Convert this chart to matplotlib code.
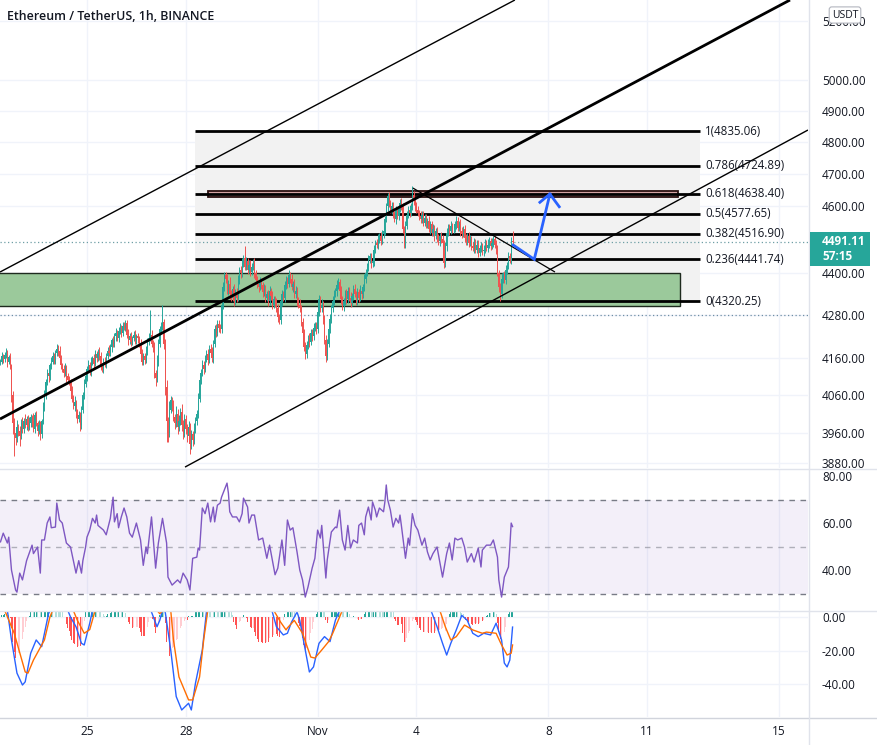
import numpy as np
import pandas as pd
import matplotlib
matplotlib.use('Agg')
import matplotlib.pyplot as plt
from matplotlib.patches import Rectangle
from matplotlib.lines import Line2D
from matplotlib.ticker import NullLocator

plt.rcParams['font.family'] = ['Open Sans', 'DejaVu Sans']

# ---------------- data ----------------
start_time = pd.Timestamp('2021-10-22 09:00')
open0 = 4150
closes = [
    4150, 4165, 4158, 4168, 4172, 4150, 4162, 4140, 4060, 3985,
    3960, 3945, 3975, 3965, 3950, 3985, 3970, 3990, 3980, 3995,
    3975, 3985, 4000, 3990, 3970, 4005, 3985, 3965, 3980, 3955,
    3990, 4030, 4060, 4095, 4120, 4110, 4140, 4150, 4165, 4155,
    4175, 4185, 4180, 4160, 4140, 4130, 4120, 4135, 4110, 4100,
    4095, 4070, 4050, 4030, 4040, 4010, 3995, 4005, 3980, 4020,
    4060, 4090, 4110, 4130, 4140, 4125, 4150, 4160, 4145, 4170,
    4160, 4175, 4165, 4140, 4130, 4150, 4145, 4165, 4180, 4175,
    4190, 4210, 4200, 4220, 4230, 4215, 4235, 4245, 4230, 4250,
    4245, 4258, 4225, 4210, 4220, 4205, 4215, 4225, 4210, 4220,
    4215, 4200, 4170, 4150, 4165, 4155, 4180, 4205, 4215, 4225,
    4200, 4190, 4120, 4105, 4150, 4200, 4240, 4250, 4260, 4200,
    4080, 3990, 3960, 4020, 4045, 4030, 4000, 3985, 4010, 3975,
    3990, 4015, 3980, 3960, 3995, 3970, 3950, 3975, 3930, 3955,
    3940, 3970, 3990, 4010, 4050, 4100, 4120, 4140, 4130, 4160,
    4170, 4155, 4185, 4175, 4160, 4200, 4240, 4230, 4255, 4245,
    4240, 4310, 4360, 4395, 4385, 4350, 4370, 4340, 4330, 4355,
    4320, 4345, 4330, 4380, 4410, 4400, 4430, 4445, 4420, 4435,
    4410, 4425, 4405, 4420, 4430, 4400, 4380, 4370, 4360, 4375,
    4365, 4345, 4355, 4330, 4340, 4320, 4350, 4335, 4310, 4325,
    4315, 4300, 4275, 4265, 4320, 4340, 4330, 4365, 4380, 4370,
    4395, 4385, 4360, 4370, 4340, 4350, 4320, 4310, 4300, 4260,
    4230, 4190, 4170, 4195, 4215, 4205, 4230, 4220, 4245, 4250,
    4240, 4290, 4325, 4300, 4310, 4270, 4210, 4165, 4200, 4240,
    4270, 4300, 4320, 4340, 4350, 4365, 4375, 4350, 4325, 4305,
    4320, 4340, 4325, 4350, 4330, 4315, 4335, 4355, 4340, 4320,
    4345, 4330, 4350, 4340, 4360, 4385, 4400, 4420, 4440, 4450,
    4430, 4435, 4470, 4490, 4485, 4500, 4510, 4495, 4515, 4525,
    4560, 4600, 4630, 4610, 4590, 4600, 4575, 4560, 4585, 4570,
    4595, 4610, 4600, 4530, 4490, 4540, 4575, 4590, 4580, 4600,
    4635, 4615, 4600, 4590, 4580, 4570, 4560, 4575, 4550, 4565,
    4545, 4555, 4530, 4545, 4520, 4530, 4510, 4525, 4505, 4495,
    4510, 4500, 4490, 4430, 4480, 4520, 4535, 4525, 4540, 4530,
    4530, 4545, 4555, 4535, 4545, 4525, 4515, 4530, 4505, 4495,
    4510, 4490, 4500, 4480, 4475, 4490, 4470, 4485, 4460, 4475,
    4480, 4465, 4470, 4490, 4475, 4485, 4495, 4480, 4490, 4500,
    4485, 4470, 4400, 4360, 4340, 4385, 4395, 4380, 4410, 4425,
    4450, 4440, 4495, 4491.11]

wick_up = [
    8, 12, 6, 10, 15, 9, 7, 12, 5, 10,
    14, 9, 18, 7, 12, 10, 15, 8, 20, 9,
    11, 16, 9, 7, 22, 10, 13, 6, 14, 9,
    6, 10, 12, 8, 11, 16, 7, 13, 12, 9,
    8, 14, 10, 13, 9, 6, 12, 11, 7, 9,
    10, 7, 13, 9, 16, 6, 11, 12, 8, 10,
    7, 12, 9, 8, 14, 10, 13, 7, 11, 12,
    9, 10, 16, 12, 7, 11, 13, 8, 10, 15,
    9, 7, 12, 10, 14, 8, 11, 13, 7, 10,
    12, 9, 8, 15, 10, 13, 7, 11, 14, 8,
    10, 7, 12, 15, 9, 8, 13, 10, 14, 70,
    12, 9, 14, 8, 18, 13, 10, 12, 50, 9,
    14, 20, 10, 24, 12, 9, 15, 8, 19, 12,
    15, 11, 20, 12, 14, 10, 13, 16, 9, 12,
    10, 15, 11, 9, 14, 12, 10, 16, 12, 9,
    12, 14, 10, 13, 15, 9, 12, 16, 10, 11,
    9, 12, 15, 10, 9, 14, 10, 20, 12, 8,
    15, 10, 12, 14, 9, 11, 15, 10, 35, 12,
    10, 13, 15, 9, 12, 14, 10, 11, 9, 15,
    12, 9, 15, 11, 10, 12, 14, 9, 13, 10,
    10, 14, 12, 9, 15, 11, 10, 14, 12, 9,
    15, 10, 12, 9, 14, 12, 10, 11, 15, 9,
    12, 10, 14, 11, 9, 15, 12, 10, 14, 11,
    10, 14, 12, 9, 15, 11, 10, 13, 12, 9,
    12, 10, 14, 11, 9, 15, 12, 10, 13, 11,
    9, 12, 14, 10, 11, 15, 9, 12, 14, 10,
    12, 9, 15, 11, 10, 14, 12, 9, 13, 11,
    10, 12, 14, 9, 11, 15, 10, 12, 13, 9,
    11, 10, 12, 13, 9, 14, 12, 10, 15, 11,
    10, 12, 14, 9, 11, 15, 10, 12, 14, 9,
    27, 12, 10, 14, 11, 9, 15, 12, 10, 13,
    12, 9, 14, 11, 10, 15, 12, 9, 13, 11,
    10, 12, 14, 9, 11, 15, 10, 12, 14, 9,
    12, 10, 14, 11, 9, 15, 12, 10, 13, 11,
    10, 12, 14, 9, 11, 15, 10, 12, 14, 9,
    12, 10, 14, 11, 9, 15, 12, 10, 13, 11,
    10, 12, 14, 9, 11, 15, 10, 12, 14, 9,
    12, 10, 12, 30]

wick_dn = [
    10, 7, 12, 8, 9, 14, 6, 11, 20, 30,
    60, 18, 9, 14, 25, 8, 12, 10, 7, 13,
    12, 8, 10, 15, 9, 11, 7, 14, 10, 15,
    9, 7, 12, 10, 8, 14, 9, 11, 7, 12,
    10, 8, 13, 9, 11, 7, 12, 10, 14, 8,
    9, 12, 10, 8, 13, 11, 9, 7, 15, 10,
    8, 11, 9, 12, 7, 10, 13, 9, 11, 8,
    12, 9, 10, 14, 8, 11, 9, 12, 7, 10,
    9, 12, 8, 10, 13, 9, 11, 7, 12, 10,
    8, 11, 9, 13, 10, 12, 8, 9, 11, 10,
    12, 9, 14, 10, 8, 11, 9, 12, 10, 8,
    10, 12, 15, 20, 9, 11, 8, 10, 12, 14,
    20, 55, 25, 12, 9, 14, 11, 15, 10, 18,
    12, 9, 15, 18, 11, 13, 14, 10, 25, 12,
    15, 10, 12, 9, 11, 8, 12, 10, 14, 9,
    11, 13, 9, 12, 10, 14, 9, 11, 8, 12,
    10, 9, 12, 11, 14, 10, 12, 15, 11, 9,
    14, 10, 12, 9, 11, 13, 10, 12, 9, 11,
    12, 10, 14, 9, 11, 13, 10, 12, 15, 9,
    11, 13, 10, 12, 9, 14, 10, 11, 13, 9,
    12, 10, 14, 11, 9, 13, 10, 12, 9, 11,
    10, 12, 9, 13, 11, 10, 14, 9, 12, 11,
    13, 10, 12, 9, 11, 14, 10, 12, 9, 11,
    12, 9, 13, 11, 10, 14, 12, 15, 10, 9,
    11, 13, 10, 12, 9, 14, 10, 11, 13, 9,
    12, 10, 14, 11, 9, 13, 10, 12, 9, 11,
    10, 12, 9, 13, 11, 10, 14, 9, 12, 11,
    13, 10, 12, 9, 11, 14, 10, 12, 9, 11,
    12, 9, 13, 11, 10, 14, 12, 9, 13, 10,
    11, 13, 10, 12, 15, 14, 10, 11, 13, 9,
    12, 10, 14, 11, 9, 13, 10, 12, 9, 11,
    10, 12, 9, 13, 11, 10, 14, 9, 12, 11,
    13, 10, 12, 15, 11, 14, 10, 12, 9, 11,
    12, 9, 13, 11, 10, 14, 12, 9, 13, 10,
    11, 13, 10, 12, 9, 14, 10, 11, 13, 9,
    12, 10, 14, 11, 9, 13, 10, 12, 9, 11,
    10, 12, 9, 13, 20, 10, 14, 9, 12, 11,
    13, 10, 12, 9]

# RSI (traced) : hour index, value
rsi_i = [0, 2, 5, 6, 8, 11, 12, 14, 16, 19, 23, 24, 27, 29, 30, 32, 34, 36, 37, 40,
         41, 43, 45, 48, 51, 53, 55, 57, 59, 60, 62, 63, 65, 67, 69, 70, 71, 75, 77, 80,
         82, 83, 85, 86, 88, 90, 92, 94, 96, 99, 102, 104, 106, 107, 110, 113, 115, 118, 121, 122,
         125, 129, 131, 133, 136, 138, 140, 143, 144, 145, 147, 149, 151, 153, 155, 156, 158, 160, 161, 163,
         165, 166, 167, 169, 172, 174, 176, 177, 180, 181, 183, 185, 188, 191, 194, 196, 200, 202, 205, 207,
         209, 211, 213, 216, 218, 220, 222, 224, 227, 229, 231, 233, 234, 235, 237, 238, 241, 244, 245, 247,
         249, 251, 253, 255, 257, 260, 261, 263, 265, 266, 268, 270, 271, 273, 274, 276, 279, 280, 281, 282,
         284, 286, 288, 290, 291, 292, 295, 297, 298, 300, 302, 304, 307, 309, 311, 313, 315, 318, 320, 322,
         325, 327, 329, 331, 333, 336, 338, 340, 343, 345, 348, 350, 351, 354, 357, 359, 362, 363, 365, 367,
         370, 371, 372, 373]
rsi_v = [52, 55.7, 51.5, 54, 40, 31.5, 30.6, 38.7, 35.8, 44, 50.6, 47, 49.8, 38.7, 52.8, 52.8, 60, 62.6, 58, 58.3,
         68.5, 61.3, 60, 51.5, 49.8, 44.3, 38.7, 44, 38.7, 44, 49.8, 54, 57, 62, 60, 63.4, 59, 57, 55, 62,
         71, 60.5, 64, 58, 62.6, 66.4, 62.6, 55.7, 54, 60, 52.8, 42, 49.8, 47, 62.6, 40.8, 51.5, 62, 51.5, 37,
         33.6, 35.8, 34.5, 38.7, 35.8, 31.5, 45, 45.5, 49.4, 48.5, 66.4, 64, 68.5, 60.5, 66.8, 60.5, 67.6, 68.5, 71, 74,
         77, 72.8, 64.8, 62.6, 62.6, 60.5, 64, 70.6, 66.8, 60, 63.4, 63.4, 52.8, 53.6, 45, 50.6, 38, 40.8, 52.8, 42,
         61.3, 57, 58, 47.7, 40, 35.8, 28.5, 32.8, 40.8, 45, 57, 53.6, 59, 51.5, 36.6, 44.3, 56.2, 58.3, 58, 65.5,
         52.8, 48.5, 59, 49.4, 52.8, 51.5, 59, 60, 55, 62.6, 66.8, 61.3, 69, 65.5, 62.6, 66.4, 64.8, 69, 76.2, 70,
         65.5, 58.3, 62, 60, 63.4, 59, 45, 53.6, 50.6, 64, 59, 57, 50.6, 53.6, 47.7, 44.3, 47, 49.8, 43.4, 37,
         47, 51.5, 44.3, 53.6, 52.8, 53.6, 49.8, 43.4, 47, 43.4, 49.4, 41.3, 48.5, 50.6, 50.6, 52.8, 45.5, 35.8, 28.5, 37,
         41.3, 49.8, 60, 58.5]

# MACD line (traced; values above the panel top are clipped in the reference)
macd_i = [0, 5, 8, 12, 16, 18, 22, 26, 30, 35, 40, 45, 51, 55, 59, 61, 65, 67, 75, 90,
          105, 110, 114, 116, 118, 120, 124, 128, 132, 137, 139, 142, 147, 150, 160, 180, 195, 198, 201, 206,
          209, 212, 216, 218, 222, 225, 228, 232, 236, 240, 244, 247, 260, 285, 305, 314, 318, 322, 325, 328,
          332, 336, 340, 344, 348, 352, 357, 361, 365, 367, 369, 371, 373]
macd_v = [12, 4, -13.7, -33.5, -40.6, -38.7, -21.6, -13.7, -17.7, 2, 10, 12, 0, -5.8, -15.7, -16.7, -3.7, 4, 12, 10,
          8, 3, -5.8, -2, 4, 3, -19.7, -47.5, -55.5, -51.5, -55.5, -39.6, -19.7, 3, 25, 30, 15, 3, -5.8, -10.7,
          -9.7, -3, 3, -2, -19.7, -32.8, -29.8, -15.7, -11.7, -14.7, -1.8, 4, 15, 30, 15, 3, -5.8, -15.7, -22.7, -15.7,
          -7.7, 1, -2, -9.7, -11.7, -9.7, -10.7, -3.7, -13.7, -27.5, -29.8, -25.7, -6]
# signal line (traced)
sig_i = [0, 10, 18, 20, 24, 28, 32, 36, 38, 45, 53, 56, 61, 65, 69, 85, 100, 114, 116, 120,
         124, 126, 130, 137, 140, 145, 148, 151, 170, 190, 199, 204, 208, 209, 214, 220, 226, 229, 234, 239,
         242, 247, 249, 270, 300, 320, 324, 328, 332, 338, 344, 351, 354, 361, 365, 369, 372, 373]
sig_v = [10, -9.7, -32.8, -33.5, -25.7, -19.7, -13.7, 0, 4, 8, 4, -2, -9.7, -7.5, 4, 10, 8, 4, 2, 5,
         4, -13.7, -35.8, -49.5, -49.5, -35.8, -13.7, 4, 20, 20, 4, -3, -7.7, -6.5, -2, -9.7, -23.9, -24.5, -19.7, -14.7,
         -9.7, 0, 4, 12, 20, 4, -5.8, -13.7, -11.7, -4.8, -7.7, -9.7, -9, -9.7, -16.7, -22.7, -21.6, -16.7]

# Fibonacci retracement
fib_levels = ['1', '0.786', '0.618', '0.5', '0.382', '0.236', '0']
fib_prices = [4835.06, 4724.89, 4638.40, 4577.65, 4516.90, 4441.74, 4320.25]

# axis ticks
price_ticks = [5200, 5000, 4900, 4800, 4700, 4600, 4400, 4280, 4160, 4060, 3960, 3880]
last_price = 4491.11
countdown = '57:15'
date_ticks = ['2021-10-25', '2021-10-28', '2021-11-01', '2021-11-04', '2021-11-08', '2021-11-11', '2021-11-15']
date_labels = ['25', '28', 'Nov', '4', '8', '11', '15']

# drawings (hour index, price)
green_zone = dict(i0=-5, i1=495, p0=4306, p1=4401)
brown_zone = dict(i0=151.1, i1=493.4, p0=4628, p1=4646)
fib_span = (141.7, 509.5)
upper_line = [(-0.36, 4404), (374.7, 5273.3)]
mid_line = [(-0.36, 3995.5), (575.1, 5273.3)]
lower_line = [(134.4, 3870.4), (588.2, 4838.3)]
desc_line = [(300.4, 4655.9), (403.9, 4404.0)]
arrow_path = [(373.5, 4483.4), (388.8, 4441.2), (400.2, 4637.5)]
arrow_wings = [(392.9, 4612.1), (400.2, 4637.5), (407.0, 4598.6)]
hline_dotted = 4280.5

assert len(closes) == len(wick_up) == len(wick_dn)
assert len(rsi_i) == len(rsi_v)
assert len(macd_i) == len(macd_v) and len(sig_i) == len(sig_v)

# ---------------- figure ----------------
W, H = 877, 745
fig = plt.figure(figsize=(W / 100, H / 100), dpi=100)
fig.patch.set_facecolor('white')

def fy(y):
    return 1 - y / H

def fx(x):
    return x / W

XR = 808
ax = fig.add_axes([0, fy(468), fx(XR), fy(0) - fy(468)])
ax_r = fig.add_axes([0, fy(610), fx(XR), fy(469) - fy(610)], sharex=ax)
ax_m = fig.add_axes([0, fy(717), fx(XR), fy(611) - fy(717)], sharex=ax)

TXT = '#131722'
GRID = '#F0F3FA'
UPC, DNC = '#26A69A', '#EF5350'

n = len(closes)
idx = np.arange(n)
c = np.array(closes, dtype=float)
o = np.r_[open0, c[:-1]]
hi = np.maximum(o, c) + np.array(wick_up)
lo = np.minimum(o, c) - np.array(wick_dn)
up = c >= o
col = np.where(up, UPC, DNC)

xt = [(pd.Timestamp(d) - start_time) / pd.Timedelta(hours=1) for d in date_ticks]

for a in (ax, ax_r, ax_m):
    for s in a.spines.values():
        s.set_visible(False)
    for x in xt:
        a.axvline(x, color=GRID, lw=1, zorder=0)
    a.set_facecolor('white')

# ---- main price panel ----
ax.set_yscale('log')
ax.set_ylim(3868.0, 5273.3)
ax.set_xlim(-0.36, 588.2)
for p in price_ticks:
    ax.axhline(p, color=GRID, lw=1, zorder=0)

ax.fill_between(fib_span, fib_prices[-1], fib_prices[0], color='#F2F2F2', zorder=1, lw=0)
ax.add_patch(Rectangle((green_zone['i0'], green_zone['p0']), green_zone['i1'] - green_zone['i0'],
                       green_zone['p1'] - green_zone['p0'], facecolor='#9BC99B', edgecolor='#1e2a1e',
                       lw=1.0, zorder=2))
ax.add_patch(Rectangle((brown_zone['i0'], brown_zone['p0']), brown_zone['i1'] - brown_zone['i0'],
                       brown_zone['p1'] - brown_zone['p0'], facecolor='#D4A3A3', edgecolor='#2b1010',
                       lw=1.3, zorder=2))
ax.hlines(fib_prices, fib_span[0], fib_span[1], colors='black', lw=2.0, zorder=3)
for lv, pr in zip(fib_levels, fib_prices):
    ax.text(fib_span[1] + 3.6, pr, f'{lv}({pr:.2f})', fontsize=8.3, color=TXT, va='center', ha='left', zorder=6)

ax.axhline(last_price, color='#6E9FA5', lw=0.9, ls=(0, (1, 2)), zorder=3)
ax.axhline(hline_dotted, color='#6E8FA5', lw=0.9, ls=(0, (1, 2)), zorder=3)

ax.vlines(idx, lo, hi, colors=col, lw=0.7, zorder=4)
body_lo = np.minimum(o, c)
body_h = np.maximum(np.abs(c - o), 0.8)
ax.bar(idx, body_h, bottom=body_lo, width=0.72, color=col, lw=0, zorder=4)

for pts, lw in ((upper_line, 1.0), (mid_line, 2.0), (lower_line, 1.0), (desc_line, 0.9)):
    ax.plot([pts[0][0], pts[1][0]], [pts[0][1], pts[1][1]], color='black', lw=lw, zorder=5,
            solid_capstyle='butt')

ax.plot([p[0] for p in arrow_path], [p[1] for p in arrow_path], color='#2962FF', lw=2.0, zorder=6,
        solid_joinstyle='miter')
ax.plot([p[0] for p in arrow_wings], [p[1] for p in arrow_wings], color='#2962FF', lw=2.0, zorder=6)

ax.yaxis.tick_right()
ax.yaxis.set_minor_locator(NullLocator())
ax.set_yticks(price_ticks)
ax.set_yticklabels([f'{p:.2f}' for p in price_ticks])
ax.tick_params(axis='y', length=0, pad=10, labelsize=8.5, labelcolor=TXT)
ax.tick_params(axis='x', length=0, labelbottom=False)

# ---- RSI panel ----
ax_r.set_ylim(23.0, 83.0)
ax_r.fill_between([-0.36, 588.2], 30, 70, color='#7E57C2', alpha=0.09, lw=0, zorder=1)
for lvl, a_ in ((70, 1.0), (50, 0.55), (30, 1.0)):
    ax_r.axhline(lvl, color='#787B86', lw=1, ls=(0, (4, 4)), alpha=a_, zorder=2)
ax_r.plot(rsi_i, rsi_v, color='#7E57C2', lw=1.0, zorder=3)
ax_r.yaxis.tick_right()
ax_r.set_yticks([80, 60, 40])
ax_r.set_yticklabels(['80.00', '60.00', '40.00'])
ax_r.tick_params(axis='y', length=0, pad=10, labelsize=8.5, labelcolor=TXT)
ax_r.tick_params(axis='x', length=0, labelbottom=False)

# ---- MACD panel ----
s = pd.Series(c)
macd_calc = s.ewm(span=12, adjust=False).mean() - s.ewm(span=26, adjust=False).mean()
sig_calc = macd_calc.ewm(span=9, adjust=False).mean()
hist = (macd_calc - sig_calc).values
prev = np.r_[hist[0], hist[:-1]]
hcol = np.where(hist >= 0, np.where(hist >= prev, '#26A69A', '#B2DFDB'),
                np.where(hist < prev, '#FF5252', '#FFCDD2'))
ax_m.set_ylim(-59.7, 3.6)
for lvl in (0, -20, -40):
    ax_m.axhline(lvl, color=GRID, lw=1, zorder=0)
ax_m.bar(idx, hist, width=0.6, color=hcol, lw=0, zorder=2)
ax_m.plot(macd_i, macd_v, color='#2962FF', lw=1.0, zorder=3)
ax_m.plot(sig_i, sig_v, color='#FF6D00', lw=1.0, zorder=3)
ax_m.yaxis.tick_right()
ax_m.set_yticks([0, -20, -40])
ax_m.set_yticklabels(['0.00', '-20.00', '-40.00'])
ax_m.tick_params(axis='y', length=0, pad=10, labelsize=8.5, labelcolor=TXT)
ax_m.set_xticks(xt)
ax_m.set_xticklabels(date_labels)
ax_m.tick_params(axis='x', length=0, pad=6, labelsize=8.5, labelcolor=TXT)

# ---- separators ----
SEP = '#E0E3EB'
for yy in (468.5, 610.5):
    fig.add_artist(Line2D([0, 1], [fy(yy)] * 2, color=SEP, lw=1))
fig.add_artist(Line2D([0, 1], [fy(717.5)] * 2, color='#D1D4DC', lw=1))
fig.add_artist(Line2D([fx(808.5)] * 2, [fy(745), 1], color=SEP, lw=1))

# ---- header / labels ----
fig.text(fx(7), fy(17), 'Ethereum / TetherUS, 1h, BINANCE', fontsize=8.9, fontweight='semibold',
         color=TXT, va='center', ha='left')
fig.text(fx(845), fy(15), 'USDT', fontsize=7.5, color=TXT, va='center', ha='center', zorder=10,
         bbox=dict(boxstyle='round,pad=0.25', facecolor='white', edgecolor='#B2B5BE', lw=0.8))
fig.add_artist(Rectangle((fx(810), fy(266)), fx(60), 34 / H, transform=fig.transFigure,
                         facecolor='#26A69A', edgecolor='none', zorder=9))
fig.text(fx(822), fy(242), f'{last_price:.2f}', fontsize=8.5, fontweight='bold', color='white',
         va='center', ha='left', zorder=10)
fig.text(fx(822), fy(257), countdown, fontsize=8.5, fontweight='bold', color='white',
         va='center', ha='left', zorder=10)

fig.savefig('out.png', dpi=100, facecolor='white')
